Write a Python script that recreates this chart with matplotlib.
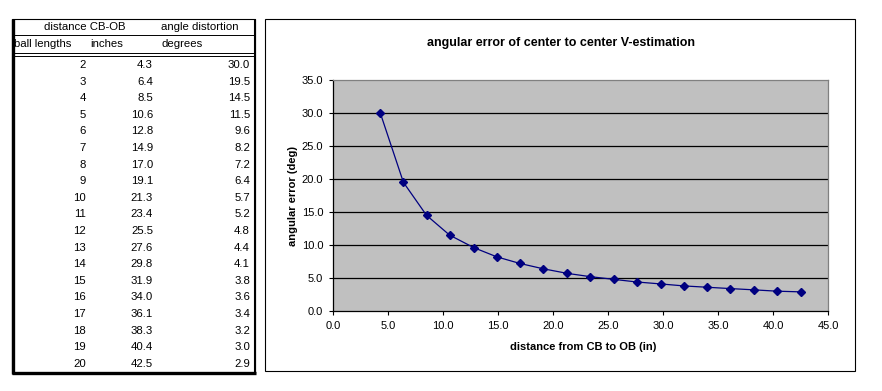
import matplotlib

matplotlib.use("Agg")
import matplotlib.pyplot as plt
from matplotlib.patches import Rectangle

ball_lengths = list(range(2, 21))
inches = [4.3, 6.4, 8.5, 10.6, 12.8, 14.9, 17.0, 19.1, 21.3, 23.4,
          25.5, 27.6, 29.8, 31.9, 34.0, 36.1, 38.3, 40.4, 42.5]
degrees = [30.0, 19.5, 14.5, 11.5, 9.6, 8.2, 7.2, 6.4, 5.7, 5.2,
           4.8, 4.4, 4.1, 3.8, 3.6, 3.4, 3.2, 3.0, 2.9]
x_ticks = [0, 5, 10, 15, 20, 25, 30, 35, 40, 45]
y_ticks = [0, 5, 10, 15, 20, 25, 30, 35]

W, H = 882, 391
FONT = "Liberation Sans"
NAVY = "#000080"

fig = plt.figure(figsize=(W / 100, H / 100), dpi=100, facecolor="white")

# pixel canvas for the table and the frames
canvas = fig.add_axes([0, 0, 1, 1])
canvas.set_xlim(0, W)
canvas.set_ylim(H, 0)
canvas.set_axis_off()

# table frame
canvas.add_patch(Rectangle((12, 19), 243, 354, fill=False, edgecolor="black", linewidth=0.8))
canvas.plot([13, 13], [19, 374], color="black", linewidth=2.4, solid_capstyle="butt")
canvas.plot([12, 256], [373, 373], color="black", linewidth=2.4, solid_capstyle="butt")
canvas.plot([255, 255], [19, 374], color="black", linewidth=1.5, solid_capstyle="butt")
canvas.plot([12, 255], [35, 35], color="black", linewidth=0.7)
canvas.plot([12, 255], [53, 53], color="black", linewidth=0.7)
canvas.plot([12, 255], [56, 56], color="black", linewidth=0.7)

tkw = dict(fontsize=8.2, family=FONT, color="black", va="center")
canvas.text(85, 27, "distance CB-OB", ha="center", **tkw)
canvas.text(161, 27, "angle distortion", ha="left", **tkw)
canvas.text(14, 44, "ball lengths", ha="left", **tkw)
canvas.text(90, 44, "inches", ha="left", **tkw)
canvas.text(161, 44, "degrees", ha="left", **tkw)
for i, (b, inch, d) in enumerate(zip(ball_lengths, inches, degrees)):
    y = 65 + 16.6 * i
    canvas.text(86, y, f"{b}", ha="right", **tkw)
    canvas.text(153, y, f"{inch:.1f}", ha="right", **tkw)
    canvas.text(250, y, f"{d:.1f}", ha="right", **tkw)

# chart frame
canvas.add_patch(Rectangle((265, 19), 590, 352, fill=False, edgecolor="black", linewidth=0.8))
canvas.text(561, 43, "angular error of center to center V-estimation", ha="center", va="center",
            fontsize=9, fontweight="bold", family=FONT)

# chart
ax = fig.add_axes([333 / W, 1 - 311 / H, (828 - 333) / W, (311 - 80) / H])
ax.set_facecolor("#C0C0C0")
ax.plot(inches, degrees, color=NAVY, linewidth=0.9, marker="D", markersize=4.2,
        markerfacecolor=NAVY, markeredgecolor=NAVY, zorder=3)
ax.set_xlim(0, 45)
ax.set_ylim(0, 35)
ax.set_xticks(x_ticks)
ax.set_yticks(y_ticks)
ax.set_xticklabels([f"{v:.1f}" for v in x_ticks], fontsize=8, family=FONT)
ax.set_yticklabels([f"{v:.1f}" for v in y_ticks], fontsize=8, family=FONT)
for v in y_ticks[1:-1]:
    ax.axhline(v, color="black", linewidth=0.9, zorder=1)
ax.tick_params(direction="out", length=3, width=0.8, pad=4, colors="black")
for side in ("top", "right"):
    ax.spines[side].set_color("#808080")
    ax.spines[side].set_linewidth(0.9)
for side in ("left", "bottom"):
    ax.spines[side].set_color("black")
    ax.spines[side].set_linewidth(0.9)
ax.set_xlabel("distance from CB to OB (in)", fontsize=8, fontweight="bold", family=FONT, va="center")
ax.set_ylabel("angular error (deg)", fontsize=8, fontweight="bold", family=FONT, va="center")
ax.xaxis.set_label_coords((583 - 333) / 495, (311 - 347) / 231)
ax.yaxis.set_label_coords((293 - 333) / 495, 0.5)

fig.savefig("out.png", dpi=100, facecolor="white")
